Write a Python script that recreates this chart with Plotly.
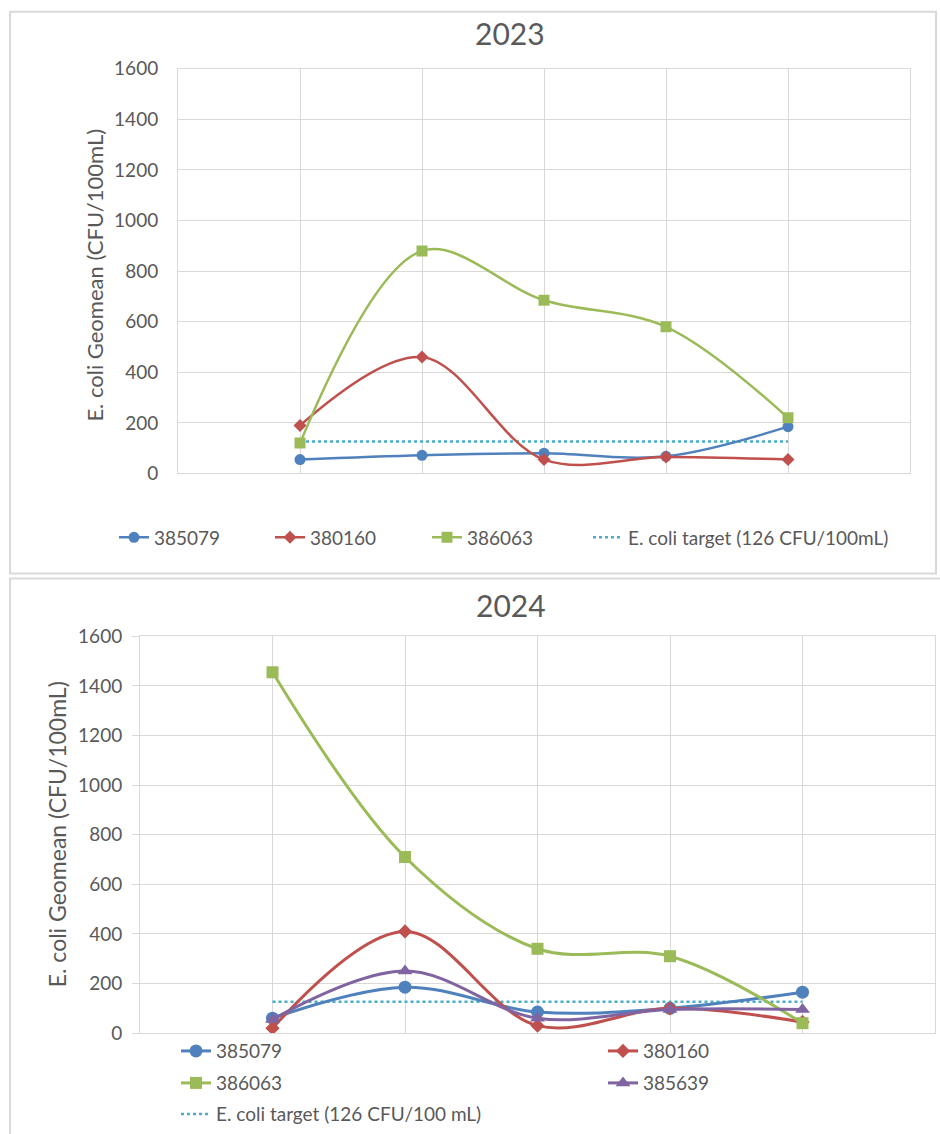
import plotly.graph_objects as go

W, H = 940, 1134

# ---- data ----
x_pos = [1, 2, 3, 4, 5]          # sampling events (unlabelled on the chart)
target_value = 126

y2023_385079 = [55, 72, 80, 68, 185]
y2023_380160 = [190, 460, 55, 65, 55]
y2023_386063 = [120, 880, 685, 580, 220]

y2024_385079 = [60, 185, 85, 100, 165]
y2024_380160 = [20, 410, 30, 100, 45]
y2024_386063 = [1455, 710, 340, 310, 40]
y2024_385639 = [55, 250, 60, 95, 95]

y_ticks = [0, 200, 400, 600, 800, 1000, 1200, 1400, 1600]
y_title = "E. coli Geomean (CFU/100mL)"

# ---- styles ----
BLUE, RED, GREEN, PURPLE, AQUA = "#4F81BD", "#C0504D", "#9BBB59", "#8064A2", "#4BACC6"
TXT = "#595959"
GRID = "#D9D9D9"
FONT = "Lato"

style = {
    "385079": dict(color=BLUE, symbol="circle", size=11),
    "380160": dict(color=RED, symbol="diamond", size=10),
    "386063": dict(color=GREEN, symbol="square", size=11),
    "385639": dict(color=PURPLE, symbol="triangle-up", size=12),
}

# the photographed page comes out slightly squeezed vertically; compensate
V_SCALE, V_OFF = 0.9804, 10.2


def fx(x):
    return x / W


def fy(y):
    return 1 - ((y - V_OFF) / V_SCALE) / H


def station_trace(name, ys, xa, ya, legend, grow=0, lw=2.5):
    s = style[name]
    return go.Scatter(
        x=x_pos, y=ys, name=name, mode="lines+markers",
        line=dict(color=s["color"], width=lw, shape="spline", smoothing=1),
        marker=dict(color=s["color"], symbol=s["symbol"], size=s["size"] + grow),
        xaxis=xa, yaxis=ya, legend=legend, showlegend=True,
    )


def target_trace(name, xa, ya, legend):
    return go.Scatter(
        x=x_pos, y=[target_value] * len(x_pos), name=name, mode="lines",
        line=dict(color=AQUA, width=2.5, dash="dot"),
        xaxis=xa, yaxis=ya, legend=legend, showlegend=True,
    )


fig = go.Figure()
# 2023
fig.add_trace(target_trace("E. coli target (126 CFU/100mL)", "x", "y", "legend4"))
fig.add_trace(station_trace("385079", y2023_385079, "x", "y", "legend"))
fig.add_trace(station_trace("380160", y2023_380160, "x", "y", "legend2"))
fig.add_trace(station_trace("386063", y2023_386063, "x", "y", "legend3"))
# 2024
fig.add_trace(target_trace("E. coli target (126 CFU/100 mL)", "x2", "y2", "legend9"))
fig.add_trace(station_trace("385079", y2024_385079, "x2", "y2", "legend5", 2, 3))
fig.add_trace(station_trace("380160", y2024_380160, "x2", "y2", "legend6", 1, 3))
fig.add_trace(station_trace("386063", y2024_386063, "x2", "y2", "legend7", 1, 3))
fig.add_trace(station_trace("385639", y2024_385639, "x2", "y2", "legend8", 1, 3))

xaxis_common = dict(range=[0, 6], dtick=1, tick0=0, showticklabels=False,
                    showgrid=True, gridcolor=GRID, gridwidth=1, zeroline=False,
                    showline=True, linecolor=GRID, linewidth=1, mirror=True,
                    ticks="", fixedrange=True)
yaxis_common = dict(range=[0, 1600], tickvals=y_ticks, showgrid=True,
                    gridcolor=GRID, gridwidth=1, zeroline=False,
                    showline=True, linecolor=GRID, linewidth=1, mirror=True,
                    fixedrange=True,
                    tickfont=dict(size=19, color=TXT, family=FONT))

LEG_FONT = dict(size=19, color=TXT, family=FONT)


def leg(text_x, text_y):
    # one legend per entry; plotly puts the entry text about 40px right of the legend's left edge
    return dict(orientation="h", x=fx(text_x - 40), xanchor="left",
                y=fy(text_y), yanchor="middle", font=LEG_FONT,
                bgcolor="rgba(0,0,0,0)", borderwidth=0, visible=True)


fig.update_layout(
    width=W, height=H, margin=dict(l=0, r=0, t=0, b=0),
    paper_bgcolor="white", plot_bgcolor="white",
    font=dict(family=FONT, color=TXT),
    showlegend=True,
    xaxis=dict(domain=[fx(178), fx(910)], anchor="y", **xaxis_common),
    yaxis=dict(domain=[fy(472), fy(67)], anchor="x", ticks="",
               ticklabelstandoff=15, **yaxis_common),
    xaxis2=dict(domain=[fx(140), fx(935)], anchor="y2", **xaxis_common),
    yaxis2=dict(domain=[fy(1032), fy(635)], anchor="x2", ticks="outside",
                ticklen=7, tickcolor=GRID, ticklabelstandoff=6, **yaxis_common),
    legend=leg(154, 536),
    legend2=leg(310, 536),
    legend3=leg(467, 536),
    legend4=leg(628, 536),
    legend5=leg(216, 1050),
    legend6=leg(643, 1050),
    legend7=leg(216, 1082),
    legend8=leg(643, 1082),
    legend9=leg(216, 1113),
    annotations=[
        dict(text="2023", x=fx(510), y=fy(31), xref="paper", yref="paper",
             xanchor="center", yanchor="middle", showarrow=False,
             font=dict(size=30, color=TXT, family=FONT)),
        dict(text="2024", x=fx(511), y=fy(604), xref="paper", yref="paper",
             xanchor="center", yanchor="middle", showarrow=False,
             font=dict(size=30, color=TXT, family=FONT)),
        dict(text=y_title, x=fx(95), y=fy(274), xref="paper", yref="paper",
             xanchor="center", yanchor="middle", textangle=-90, showarrow=False,
             font=dict(size=22, color=TXT, family=FONT)),
        dict(text=y_title, x=fx(57), y=fy(833), xref="paper", yref="paper",
             xanchor="center", yanchor="middle", textangle=-90, showarrow=False,
             font=dict(size=23, color=TXT, family=FONT)),
    ],
    shapes=[
        dict(type="rect", xref="paper", yref="paper", x0=fx(10), x1=fx(936),
             y0=fy(572), y1=fy(10), line=dict(color=GRID, width=2)),
        dict(type="rect", xref="paper", yref="paper", x0=fx(10), x1=fx(950),
             y0=fy(1160), y1=fy(577), line=dict(color=GRID, width=2)),
    ],
)

fig.write_html(
    "out.html",
    config={"displayModeBar": False},
    post_script=(
        "document.documentElement.style.margin='0';"
        "document.body.style.margin='0';"
        "document.body.style.overflow='hidden';"
        "var g=document.getElementById('{plot_id}');"
        "g.style.position='fixed';g.style.left='0px';g.style.top='0px';"
    ),
)
